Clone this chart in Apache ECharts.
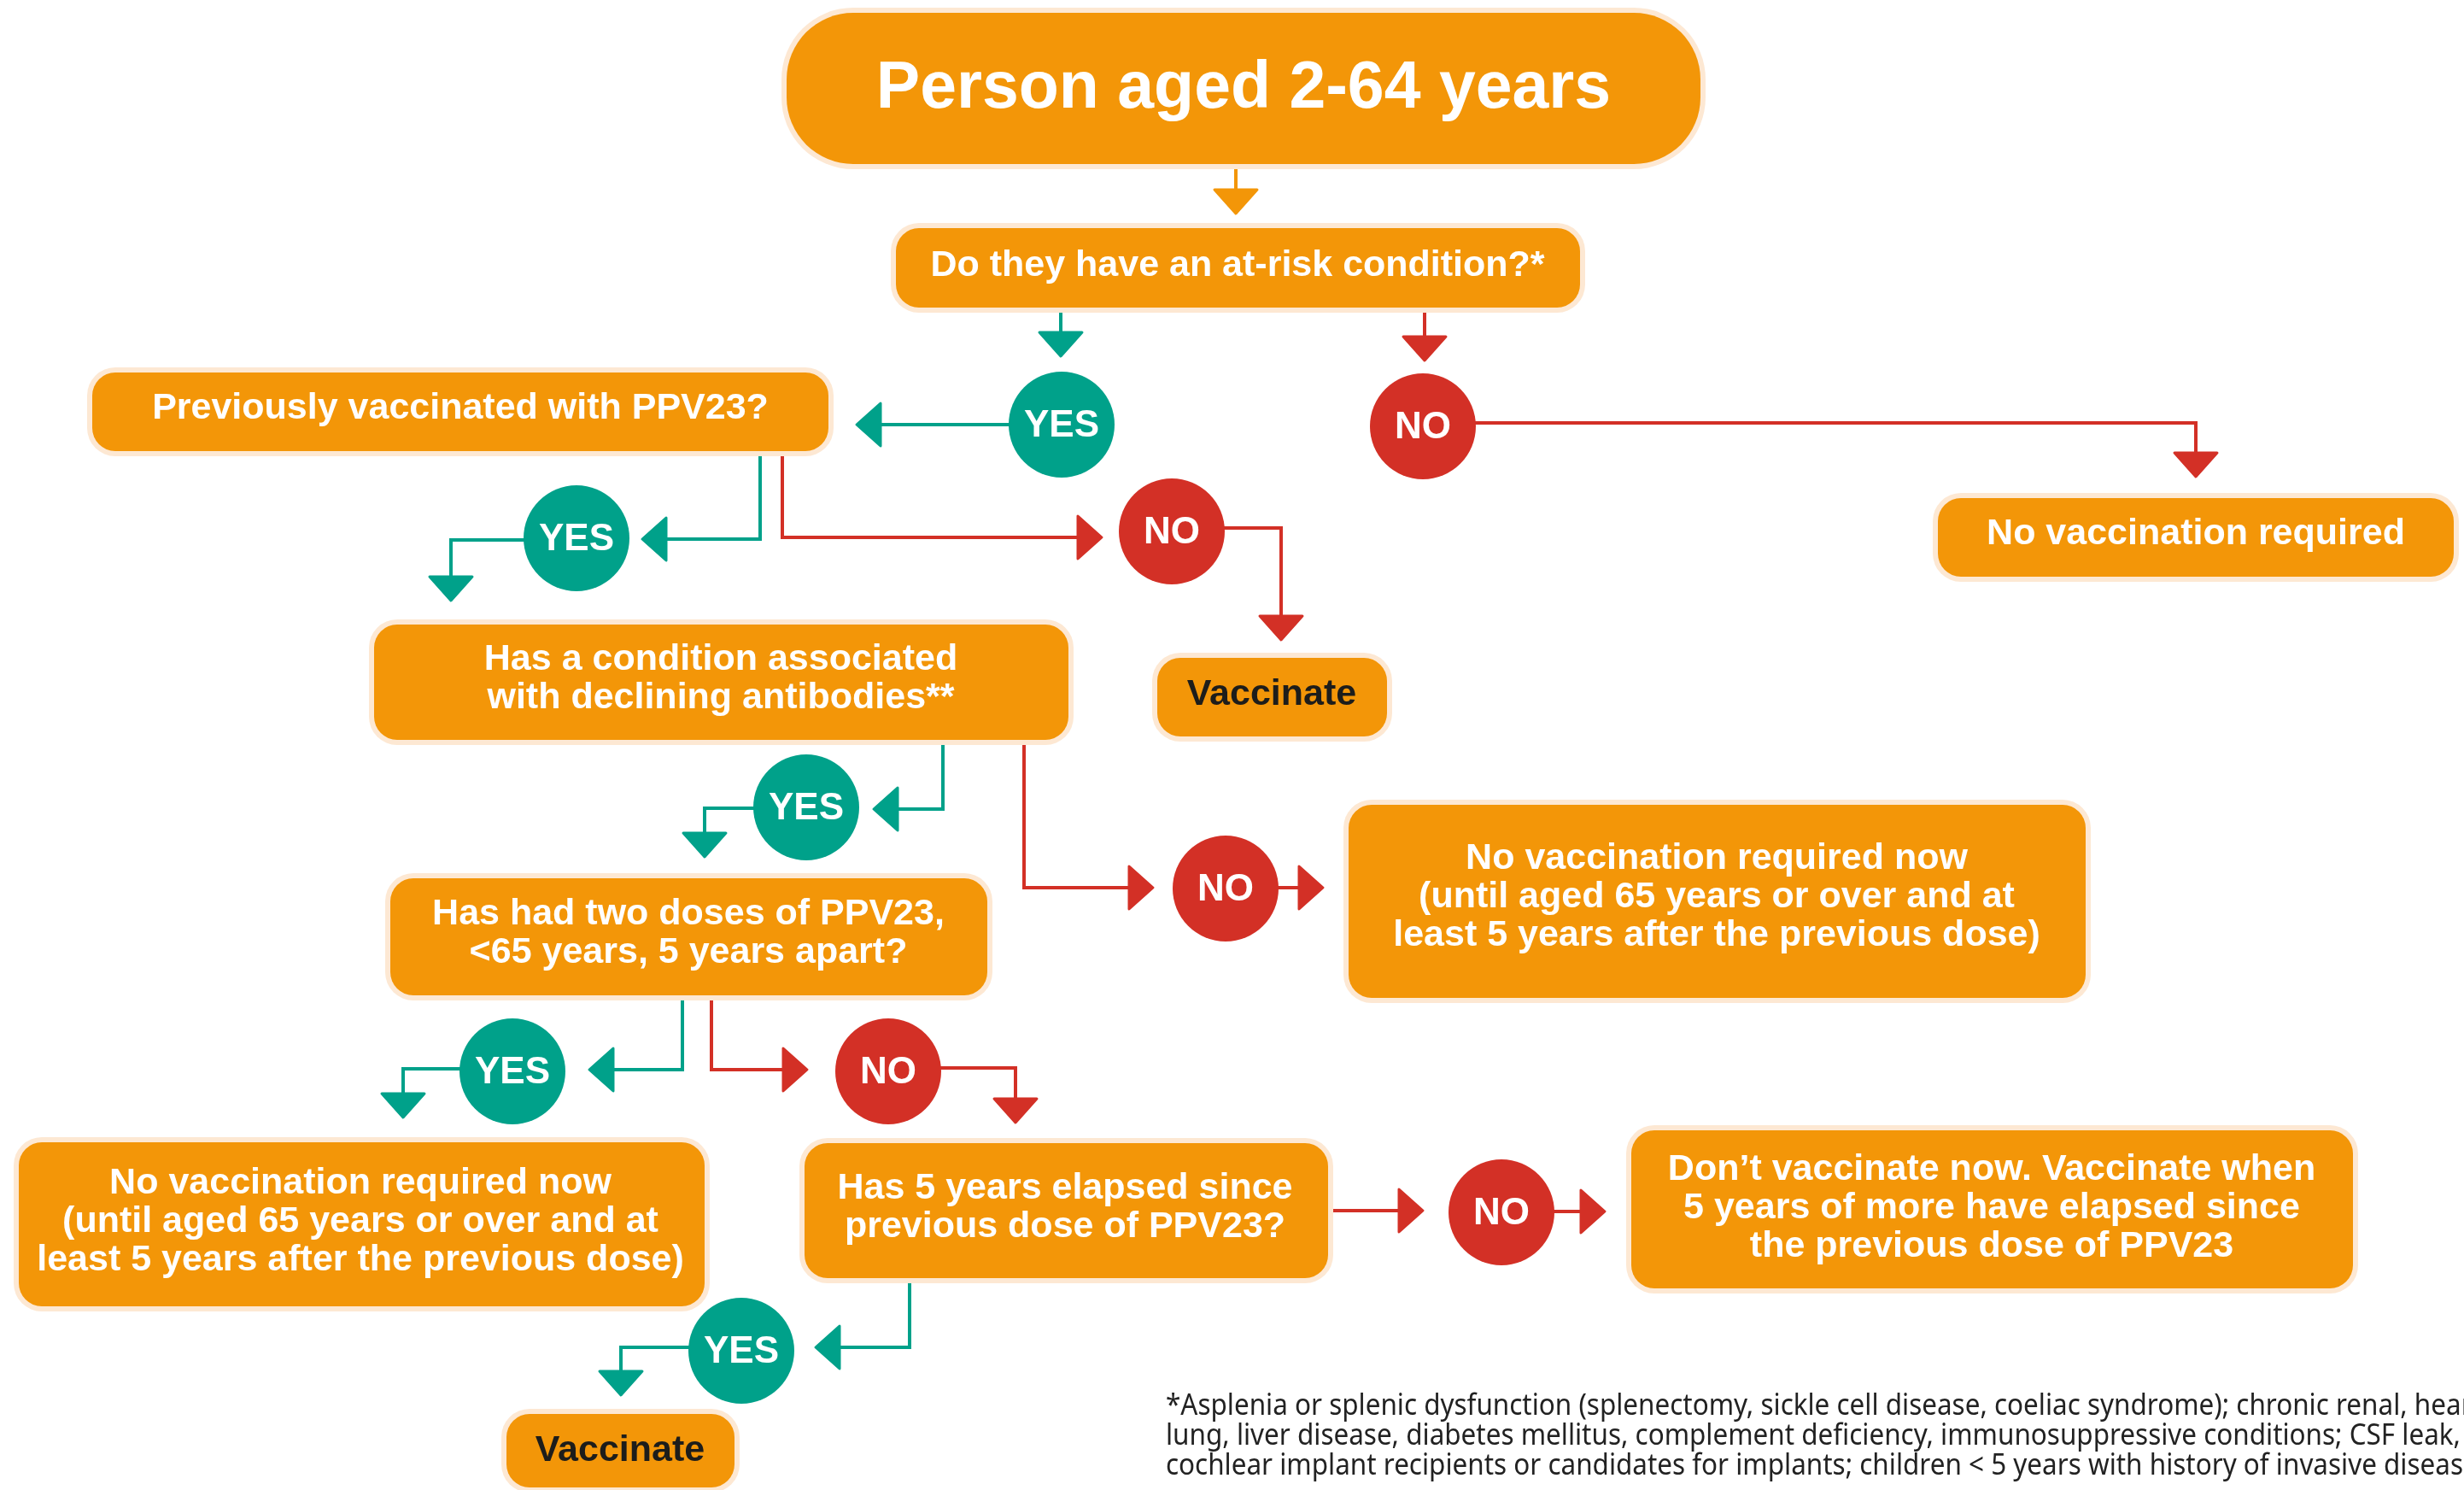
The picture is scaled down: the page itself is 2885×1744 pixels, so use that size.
<!DOCTYPE html>
<html><head><meta charset="utf-8">
<script src="https://cdn.jsdelivr.net/npm/echarts@6/dist/echarts.min.js"></script>
<style>html,body{margin:0;padding:0;background:#fff;overflow:hidden}#chart{width:2885px;height:1744px}</style>
</head><body><div id="chart"></div>
<script>
// ---------------- content (data) ----------------
const boxTexts = [
  'Person aged 2-64 years',
  'Do they have an at-risk condition?*',
  'Previously vaccinated with PPV23?',
  'No vaccination required',
  'Has a condition associated\nwith declining antibodies**',
  'Vaccinate',
  'No vaccination required now\n(until aged 65 years or over and at\nleast 5 years after the previous dose)',
  'Has had two doses of PPV23,\n<65 years, 5 years apart?',
  'No vaccination required now\n(until aged 65 years or over and at\nleast 5 years after the previous dose)',
  'Has 5 years elapsed since\nprevious dose of PPV23?',
  'Don\u2019t vaccinate now. Vaccinate when\n5 years of more have elapsed since\nthe previous dose of PPV23',
  'Vaccinate'
];
const boxKinds = ['start','question','question','outcome','question','action','outcome','question','outcome','question','outcome','action'];
const answerLabels = ['YES','NO','YES','NO','YES','NO','YES','NO','NO','YES'];
const connectorKinds = ['flow','YES','NO','YES','NO','YES','YES','NO','NO','YES','YES','NO','NO','YES','YES','NO','NO','NO','NO','YES','YES'];
const footnoteLines = [
  '*Asplenia or splenic dysfunction (splenectomy, sickle cell disease, coeliac syndrome); chronic renal, heart,',
  'lung, liver disease, diabetes mellitus, complement deficiency, immunosuppressive conditions; CSF leak,',
  'cochlear implant recipients or candidates for implants; children < 5 years with history of invasive disease'
];

// ---------------- layout (positions in the 2885 x 1744 frame) ----------------
const boxRects = [
  [921,15,1991,192],[1049,267,1850,360],[108,436,970,528],[2269,583,2873,675],
  [438,731,1251,866],[1355,770,1624,862],[1579,942,2442,1168],[457,1028,1156,1165],
  [22,1337,825,1529],[942,1338,1555,1496],[1910,1323,2755,1508],[593,1655,860,1741]
];
const boxTextCenters = [
  [1456,105],[1449,311],[539,478],[2571,625],[844,795],[1489,813],[2010,1050],
  [806,1093],[422,1430],[1247,1414],[2332,1414],[726,1698]
];
const circleCenters = [
  [1243,497],[1666,499],[675,630],[1372,622],[944,945],[1435,1040],
  [600,1254],[1040,1254],[1758,1419],[868,1581]
];
const connectorPaths = [
  [[1447,190],[1447,250]],
  [[1242,362],[1242,417]],
  [[1668,362],[1668,422]],
  [[1182,497],[1003,497]],
  [[1727,495],[2571,495],[2571,558]],
  [[890,530],[890,631],[752,631]],
  [[614,632],[528,632],[528,703]],
  [[916,530],[916,629],[1290,629]],
  [[1433,618],[1500,618],[1500,749]],
  [[1104,868],[1104,947],[1023,947]],
  [[883,946],[825,946],[825,1003]],
  [[1199,868],[1199,1039],[1350,1039]],
  [[1496,1039],[1549,1039]],
  [[799,1167],[799,1252],[690,1252]],
  [[539,1251],[472,1251],[472,1308]],
  [[833,1167],[833,1252],[945,1252]],
  [[1101,1250],[1189,1250],[1189,1314]],
  [[1557,1417],[1666,1417]],
  [[1818,1418],[1879,1418]],
  [[1065,1498],[1065,1577],[955,1577]],
  [[807,1577],[727,1577],[727,1633]]
];
const footnoteOrigin = [1365, 1646];

// ---------------- styles ----------------
const C = { orange:'#F39608', glow:'#FDE8D3', teal:'#00A18A', red:'#D33026', dark:'#1D1D1B', white:'#FFFFFF' };
const kindColor = { flow:C.orange, YES:C.teal, NO:C.red };
const FONT = '"Liberation Sans", Arial, sans-serif';

// footnote horizontal condensing to match the narrow original face
const FOOT_SIZE = 35;
const FOOT_FONT = '"Noto Sans", sans-serif';
let footScale = 0.85;
try {
  const cx = document.createElement('canvas').getContext('2d');
  cx.font = FOOT_SIZE + 'px ' + FOOT_FONT;
  const w = cx.measureText(footnoteLines[1]).width;
  if (w > 0) footScale = 1516 / w;
} catch (e) {}

const chart = echarts.init(document.getElementById('chart'), null, {renderer:'canvas'});

function pt(api, p){ return api.coord(p); }

const option = {
  backgroundColor:'#ffffff',
  animation:false,
  grid:{left:0,right:0,top:0,bottom:0},
  xAxis:{type:'value',min:0,max:2885,show:false},
  yAxis:{type:'value',min:0,max:1744,inverse:true,show:false},
  series:[
    { // connectors
      type:'custom', z:1, silent:true,
      data: connectorKinds.map((k,i)=>[i]),
      renderItem(params, api){
        const i = api.value(0);
        const col = kindColor[connectorKinds[i]];
        const pts = connectorPaths[i].map(p=>pt(api,p));
        const n = pts.length;
        const tip = pts[n-1], prev = pts[n-2];
        let dx = tip[0]-prev[0], dy = tip[1]-prev[1];
        const L = Math.hypot(dx,dy); dx/=L; dy/=L;
        const len = 28, hw = 25;
        const base = [tip[0]-dx*len, tip[1]-dy*len];
        const px = -dy, py = dx;
        const linePts = pts.slice(0,n-1).concat([base]);
        return {type:'group', children:[
          {type:'polyline', shape:{points:linePts}, style:{stroke:col, lineWidth:4, fill:null, lineJoin:'miter'}},
          {type:'polygon', shape:{points:[[base[0]+px*hw,base[1]+py*hw],[tip[0],tip[1]],[base[0]-px*hw,base[1]-py*hw]]},
           style:{fill:col, stroke:col, lineWidth:3, lineJoin:'round'}}
        ]};
      }
    },
    { // boxes
      type:'custom', z:2, silent:true,
      data: boxTexts.map((t,i)=>[i]),
      renderItem(params, api){
        const i = api.value(0);
        const r = boxRects[i];
        const a = pt(api,[r[0],r[1]]), b = pt(api,[r[2],r[3]]);
        const kind = boxKinds[i];
        const rad = kind==='start' ? 78 : 27;
        const g = 6;
        const tc = pt(api, boxTextCenters[i]);
        const fs = kind==='start' ? 77 : 43;
        return {type:'group', children:[
          {type:'rect', shape:{x:a[0]-g,y:a[1]-g,width:b[0]-a[0]+2*g,height:b[1]-a[1]+2*g,r:rad+g}, style:{fill:C.glow}},
          {type:'rect', shape:{x:a[0],y:a[1],width:b[0]-a[0],height:b[1]-a[1],r:rad}, style:{fill:C.orange}},
          {type:'text', x:tc[0], y:tc[1], style:{text:boxTexts[i], fill: kind==='action'?C.dark:C.white,
            fontSize:fs, fontWeight:'bold', fontFamily:FONT, align:'center', verticalAlign:'middle',
            lineHeight: 45}}
        ]};
      }
    },
    { // answer circles
      type:'custom', z:3, silent:true,
      data: answerLabels.map((t,i)=>[i]),
      renderItem(params, api){
        const i = api.value(0);
        const c = pt(api, circleCenters[i]);
        const lab = answerLabels[i];
        return {type:'group', children:[
          {type:'circle', shape:{cx:c[0],cy:c[1],r:62}, style:{fill: lab==='YES'?C.teal:C.red}},
          {type:'text', x:c[0], y:c[1]+2, style:{text:lab, fill:C.white, fontSize:44, fontWeight:'bold', fontFamily:FONT, align:'center', verticalAlign:'middle'}}
        ]};
      }
    },
    { // footnote
      type:'custom', z:3, silent:true,
      data: footnoteLines.map((t,i)=>[i]),
      renderItem(params, api){
        const i = api.value(0);
        const o = pt(api, [footnoteOrigin[0], footnoteOrigin[1] + i*35]);
        return {type:'text', x:o[0], y:o[1], scaleX:footScale,
          style:{text:footnoteLines[i], fill:'#222222', fontSize:FOOT_SIZE, fontFamily:FOOT_FONT, align:'left', verticalAlign:'middle'}};
      }
    }
  ]
};
chart.setOption(option);
</script></body></html>
